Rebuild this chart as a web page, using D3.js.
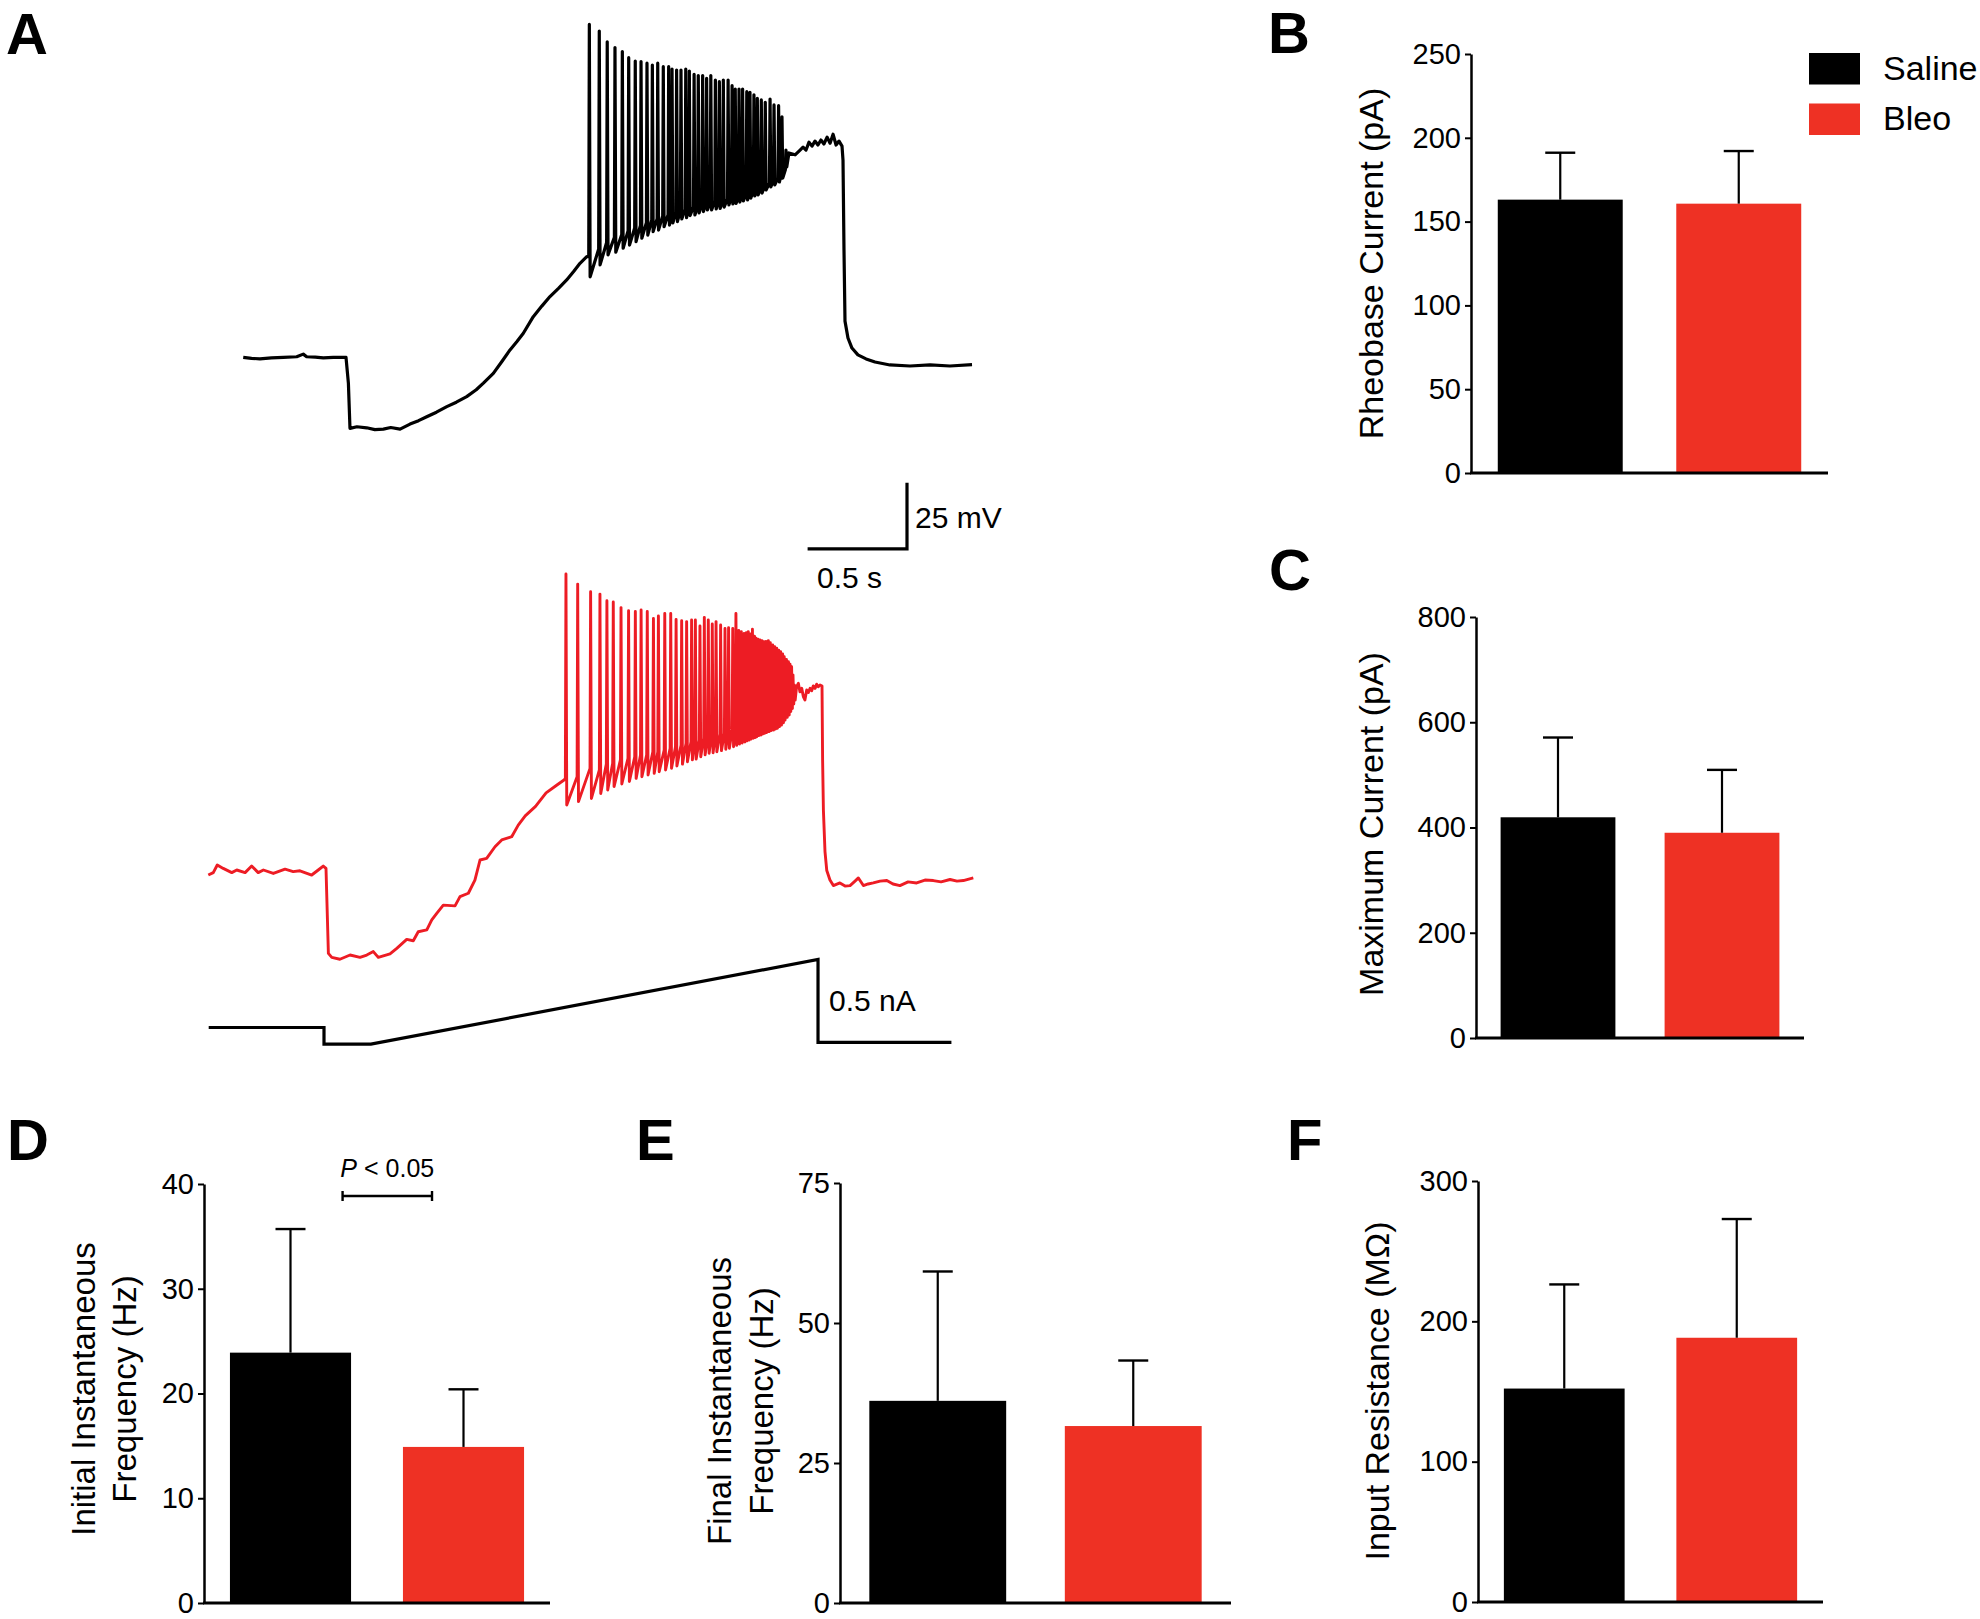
<!DOCTYPE html>
<html><head><meta charset="utf-8">
<script src="https://cdn.jsdelivr.net/npm/d3@7"></script>
<style>
body{margin:0;background:#fff}
svg{display:block}
text{font-family:"Liberation Sans",Arial,Helvetica,sans-serif;fill:#000}
</style></head>
<body><svg id="chart" width="1980" height="1619"></svg>
<script>
// ---------------- DATA ----------------
const groups = ["Saline", "Bleo"];
const groupColors = ["#000000", "#ee3124"];

// B: Rheobase current (pA)
const rheobaseMean = [163.1, 160.7];
const rheobaseSem  = [28.0, 31.4];
const rheobaseTicks = [0, 50, 100, 150, 200, 250];
// C: Maximum current (pA)
const maxCurrentMean = [419.4, 390.0];
const maxCurrentSem  = [151.6, 119.5];
const maxCurrentTicks = [0, 200, 400, 600, 800];
// D: Initial instantaneous frequency (Hz)
const initFreqMean = [23.9, 14.9];
const initFreqSem  = [11.8, 5.5];
const initFreqTicks = [0, 10, 20, 30, 40];
// E: Final instantaneous frequency (Hz)
const finalFreqMean = [36.1, 31.6];
const finalFreqSem  = [23.1, 11.7];
const finalFreqTicks = [0, 25, 50, 75];
// F: Input resistance (MOhm)
const inputResMean = [152.1, 188.3];
const inputResSem  = [74.2, 84.6];
const inputResTicks = [0, 100, 200, 300];

const sigLabel = "< 0.05";

// A: example traces (time in s from step onset, membrane potential in mV)
const salinePre = [[-0.522,-65.0],[-0.480,-65.4],[-0.438,-65.6],[-0.380,-65.2],[-0.320,-65.0],[-0.253,-64.8],[-0.220,-63.8],[-0.203,-64.8],[-0.160,-64.9],[-0.119,-65.2],[-0.069,-65.0],[-0.005,-65.0],[0.007,-74.8],[0.015,-91.9],[0.050,-91.3],[0.099,-91.7],[0.140,-92.4],[0.183,-92.2],[0.220,-91.6],[0.267,-92.2],[0.317,-90.3],[0.360,-89.0],[0.401,-87.5],[0.450,-85.8],[0.502,-83.7],[0.550,-82.0],[0.602,-79.9],[0.650,-77.3],[0.686,-74.8],[0.736,-71.1],[0.780,-66.5],[0.820,-62.2],[0.855,-59.0],[0.887,-55.9],[0.937,-49.6],[0.980,-45.6],[1.021,-42.0],[1.065,-38.8],[1.105,-35.7],[1.140,-32.5],[1.172,-29.4],[1.206,-26.9]];
const salineSpikeT = [1.219,1.269,1.309,1.348,1.385,1.417,1.450,1.479,1.509,1.536,1.563,1.591,1.618,1.635,1.658,1.680,1.704,1.722,1.746,1.767,1.789,1.809,1.830,1.853,1.873,1.893,1.917,1.937,1.953,1.972,1.990,2.011,2.027,2.047,2.064,2.084,2.104,2.128,2.148,2.171,2.188,2.208];
const salineSpikeThr = [-26.9,-24.0,-21.5,-19.5,-18.5,-17.0,-16.0,-15.0,-14.0,-13.0,-12.5,-11.5,-11.0,-10.5,-10.0,-9.5,-9.0,-8.5,-8.0,-7.5,-7.0,-6.5,-6.5,-6.0,-5.5,-5.5,-5.0,-4.5,-4.0,-4.0,-3.5,-3.0,-2.5,-2.0,-1.5,-1.0,0.0,1.0,2.0,3.0,4.5,6.0];
const salineSpikePeak = [61.1,58.6,54.5,52.3,50.8,48.5,47.2,47.0,46.4,45.7,46.4,45.1,45.1,44.2,43.8,43.8,44.2,43.4,42.2,41.7,41.7,40.7,41.7,40.0,39.4,40.0,40.0,37.9,36.6,36.6,36.6,35.6,35.4,34.4,33.1,32.5,31.6,32.8,30.6,30.3,26.1,13.5];
const salineSpikeTrough = [-34.5,-30.0,-26.2,-25.2,-23.7,-22.5,-21.2,-19.9,-18.7,-17.4,-16.8,-15.5,-14.9,-14.1,-13.6,-12.6,-12.1,-11.3,-11.1,-10.3,-9.8,-9.2,-9.2,-8.8,-8.6,-8.1,-7.3,-6.9,-6.7,-6.2,-5.8,-5.4,-4.7,-3.9,-3.5,-2.8,-1.6,-0.5,0.3,1.4,2.9,7.1];
const salinePost = [[2.223,12.4],[2.254,11.7],[2.279,13.5],[2.294,14.6],[2.309,13.5],[2.324,16.5],[2.339,15.0],[2.354,16.9],[2.369,15.4],[2.384,17.3],[2.399,15.8],[2.415,18.4],[2.430,16.1],[2.445,19.5],[2.460,15.4],[2.475,16.9],[2.490,15.0],[2.495,9.7],[2.500,-24.4],[2.505,-51.3],[2.520,-57.7],[2.540,-61.5],[2.570,-64.1],[2.611,-65.6],[2.656,-66.8],[2.731,-67.9],[2.832,-68.3],[2.933,-67.9],[3.033,-68.3],[3.144,-67.8]];

const bleoPre = [[-0.597,-66.9],[-0.572,-66.0],[-0.552,-63.1],[-0.522,-64.4],[-0.479,-66.0],[-0.454,-65.0],[-0.412,-66.0],[-0.379,-63.5],[-0.346,-66.0],[-0.320,-65.0],[-0.270,-66.3],[-0.211,-64.7],[-0.170,-65.6],[-0.136,-65.3],[-0.077,-66.9],[-0.044,-65.0],[-0.019,-63.5],[-0.005,-64.4],[0.007,-96.6],[0.024,-98.1],[0.065,-98.8],[0.116,-97.2],[0.166,-98.1],[0.200,-97.2],[0.233,-95.9],[0.258,-98.1],[0.317,-96.8],[0.351,-94.7],[0.401,-91.3],[0.434,-91.8],[0.459,-88.4],[0.502,-87.7],[0.527,-83.9],[0.552,-81.4],[0.585,-78.3],[0.644,-78.6],[0.669,-75.1],[0.711,-73.8],[0.744,-68.8],[0.770,-61.2],[0.803,-60.6],[0.845,-56.2],[0.879,-53.6],[0.929,-52.4],[0.962,-48.0],[0.997,-44.5],[1.049,-40.9],[1.102,-35.8],[1.155,-32.9],[1.194,-30.8]];
const bleoSpikeT = [1.202,1.261,1.326,1.373,1.408,1.440,1.479,1.517,1.551,1.580,1.611,1.642,1.667,1.699,1.729,1.756,1.784,1.809,1.834,1.853,1.876,1.898,1.918,1.938,1.957,1.980,2.002,2.020,2.041,2.057,2.071,2.084,2.098,2.109,2.119,2.129,2.140,2.150,2.158,2.168,2.178,2.188,2.198,2.208,2.220,2.230,2.242,2.252,2.262,2.272,2.282,2.292,2.300,2.311,2.321,2.329,2.337,2.344,2.351];
const bleoSpikeThr = [-30.3,-29.7,-26.5,-27.1,-24.9,-24.6,-23.3,-22.7,-22.1,-21.4,-21.4,-20.2,-20.2,-19.6,-18.9,-18.3,-17.7,-17.0,-16.4,-16.4,-15.8,-15.1,-14.5,-14.2,-13.9,-13.5,-13.2,-12.7,-12.2,-12.0,-13.2,-13.0,-12.6,-12.2,-12.0,-11.6,-11.3,-11.0,-10.7,-10.3,-10.1,-9.7,-9.4,-9.1,-8.8,-8.4,-8.2,-7.8,-7.6,-6.9,-6.3,-5.7,-4.6,-3.8,-2.8,-1.6,-0.4,0.9,1.9];
const bleoSpikePeak = [47.1,43.3,40.4,39.5,37.0,36.5,34.4,33.2,32.9,33.5,32.9,30.3,31.2,32.2,32.2,29.9,29.4,29.1,29.7,29.7,27.4,30.7,29.7,28.2,29.1,27.8,26.5,26.8,26.5,32.2,25.7,25.3,24.6,24.9,25.3,24.4,26.2,23.6,22.8,22.4,22.1,21.9,21.5,21.6,21.9,21.1,20.2,19.6,19.0,18.3,17.7,16.8,15.8,14.8,13.9,13.0,12.0,8.9,5.1];
const bleoSpikeTrough = [-40.4,-39.1,-37.9,-36.0,-34.7,-33.4,-32.4,-31.5,-30.3,-29.7,-29.0,-28.4,-27.8,-27.1,-26.5,-25.6,-24.9,-24.0,-23.3,-23.0,-22.1,-21.4,-20.8,-20.6,-20.2,-19.8,-19.3,-18.9,-18.3,-17.8,-17.3,-16.9,-16.5,-16.1,-15.8,-15.4,-15.1,-14.8,-14.5,-14.1,-13.9,-13.5,-13.2,-12.9,-12.6,-12.2,-12.0,-11.6,-11.3,-10.7,-10.1,-9.2,-8.2,-7.2,-6.3,-5.0,-3.8,-2.1,-0.6];
const bleoPost = [[2.362,4.4],[2.371,5.7],[2.379,2.5],[2.388,3.8],[2.396,0.7],[2.404,-0.6],[2.413,3.2],[2.421,2.2],[2.430,3.8],[2.438,2.9],[2.446,4.7],[2.455,3.8],[2.463,5.4],[2.471,4.4],[2.480,5.1],[2.490,4.7],[2.493,-23.3],[2.497,-42.3],[2.505,-58.0],[2.514,-65.2],[2.530,-68.8],[2.547,-70.9],[2.580,-69.9],[2.606,-71.1],[2.631,-70.9],[2.656,-69.2],[2.673,-68.0],[2.698,-70.9],[2.722,-70.3],[2.748,-69.9],[2.782,-69.2],[2.816,-69.0],[2.847,-70.3],[2.882,-70.9],[2.923,-69.5],[2.966,-69.9],[3.008,-68.8],[3.050,-69.0],[3.089,-69.5],[3.134,-68.6],[3.169,-69.2],[3.201,-69.0],[3.251,-68.0]];

// injected current protocol (s, nA)
const currentT = [-0.58, 0, 0, 0.236, 2.485, 2.485, 3.156];
const currentI = [0, 0, -0.1, -0.1, 0.41, -0.09, -0.09];

// scale bars
const scaleBarTime = 0.5;   // s
const scaleBarVolt = 25;    // mV
const scaleBarLabels = ["25 mV", "0.5 s", "0.5 nA"];

// ---------------- DRAWING ----------------
const svg = d3.select("#chart");
const FONT = '"Liberation Sans",Arial,Helvetica,sans-serif';

// panel letters
const letters = [["A",6,54],["B",1268,53],["C",1269,590],["D",7,1160],["E",636,1160],["F",1287,1160]];
svg.selectAll("text.letter").data(letters).enter().append("text")
  .attr("class","letter").attr("x",d=>d[1]).attr("y",d=>d[2])
  .style("font-size","58px").style("font-weight","bold").text(d=>d[0]);

// --- bar panels ---
const panels = [
  {mean:rheobaseMean, sem:rheobaseSem, ticks:rheobaseTicks, max:250, x0:1471, x1:1828, yTop:54, yBot:473,
   titles:[["Rheobase Current (pA)",1383]], titleY:263.5},
  {mean:maxCurrentMean, sem:maxCurrentSem, ticks:maxCurrentTicks, max:800, x0:1476, x1:1804, yTop:617, yBot:1038,
   titles:[["Maximum Current (pA)",1383]], titleY:824},
  {mean:initFreqMean, sem:initFreqSem, ticks:initFreqTicks, max:40, x0:204, x1:550, yTop:1184, yBot:1603,
   titles:[["Initial Instantaneous",95],["Frequency (Hz)",136]], titleY:1389, titleSize:33, sig:true},
  {mean:finalFreqMean, sem:finalFreqSem, ticks:finalFreqTicks, max:75, x0:840, x1:1231, yTop:1183, yBot:1603,
   titles:[["Final Instantaneous",731],["Frequency (Hz)",773]], titleY:1401, titleSize:33},
  {mean:inputResMean, sem:inputResSem, ticks:inputResTicks, max:300, x0:1478, x1:1823, yTop:1181, yBot:1602,
   titles:[["Input Resistance (MΩ)",1389]], titleY:1391}
];

panels.forEach(p => {
  const g = svg.append("g");
  const x = d3.scaleBand().domain(groups).range([p.x0, p.x1]).paddingInner(0.3).paddingOuter(0.15);
  const y = d3.scaleLinear().domain([0, p.max]).range([p.yBot, p.yTop]);
  const rows = groups.map((k,i)=>({k, m:p.mean[i], s:p.sem[i], c:groupColors[i]}));

  g.selectAll("rect").data(rows).enter().append("rect")
    .attr("x", d=>x(d.k)).attr("width", x.bandwidth())
    .attr("y", d=>y(d.m)).attr("height", d=>y(0)-y(d.m)).attr("fill", d=>d.c);

  const eb = g.selectAll("g.eb").data(rows).enter().append("g").attr("class","eb");
  eb.append("line").attr("x1",d=>x(d.k)+x.bandwidth()/2).attr("x2",d=>x(d.k)+x.bandwidth()/2)
    .attr("y1",d=>y(d.m)).attr("y2",d=>y(d.m+d.s)).attr("stroke","#000").attr("stroke-width",2.2);
  eb.append("line").attr("x1",d=>x(d.k)+x.bandwidth()/2-15).attr("x2",d=>x(d.k)+x.bandwidth()/2+15)
    .attr("y1",d=>y(d.m+d.s)).attr("y2",d=>y(d.m+d.s)).attr("stroke","#000").attr("stroke-width",2.4);

  const ax = g.append("g").attr("transform",`translate(${p.x0},0)`)
    .call(d3.axisLeft(y).tickValues(p.ticks).tickSize(6).tickSizeOuter(0).tickPadding(4));
  ax.select(".domain").attr("stroke-width",2.5);
  ax.selectAll(".tick line").attr("stroke-width",2);
  ax.selectAll(".tick text").style("font-size","29px").style("font-family",FONT).attr("fill","#000");

  g.append("line").attr("x1",p.x0-1).attr("x2",p.x1).attr("y1",y(0)).attr("y2",y(0))
    .attr("stroke","#000").attr("stroke-width",2.8);

  p.titles.forEach(([txt,bx]) => {
    g.append("text").attr("transform",`translate(${bx},${p.titleY}) rotate(-90)`)
      .attr("text-anchor","middle").style("font-size",(p.titleSize||34)+"px").text(txt);
  });

  if (p.sig) {
    const xa = x(groups[0]) + x.bandwidth()*0.93, xb = x(groups[1]) + x.bandwidth()*0.24;
    const ys = 1196;
    g.append("line").attr("x1",xa).attr("x2",xb).attr("y1",ys).attr("y2",ys).attr("stroke","#000").attr("stroke-width",2.4);
    [xa,xb].forEach(xx => g.append("line").attr("x1",xx).attr("x2",xx).attr("y1",ys-5).attr("y2",ys+5).attr("stroke","#000").attr("stroke-width",2.4));
    const t = g.append("text").attr("x",(xa+xb)/2).attr("y",1177).attr("text-anchor","middle").style("font-size","25px");
    t.append("tspan").style("font-style","italic").text("P");
    t.append("tspan").text(" " + sigLabel);
  }
});

// legend
const leg = svg.append("g");
groups.forEach((gname,i) => {
  const yy = 53 + i*50.5;
  leg.append("rect").attr("x",1809).attr("y",yy).attr("width",51).attr("height",31.5).attr("fill",groupColors[i]);
  leg.append("text").attr("x",1883).attr("y",yy+26.5).style("font-size","34px").text(gname);
});

// --- Panel A traces ---
function buildTrace(pre, spT, spThr, spPk, spTr, post) {
  const pts = pre.slice();
  spT.forEach((t,i) => { pts.push([t-0.003, spThr[i]], [t, spPk[i]], [t+0.004, spTr[i]]); });
  return pts.concat(post);
}
const PX_PER_S = 198.8, PX_PER_MV = 2.64, PX_PER_NA = 166;

function traceScales(x0, yRest, vRest) {
  return {
    x: d3.scaleLinear().domain([0,1]).range([x0, x0+PX_PER_S]),
    y: d3.scaleLinear().domain([vRest, vRest+25]).range([yRest, yRest-25*PX_PER_MV])
  };
}
const sS = traceScales(347, 357.3, -65);
const sB = traceScales(327, 870, -65);

const salineTrace = buildTrace(salinePre, salineSpikeT, salineSpikeThr, salineSpikePeak, salineSpikeTrough, salinePost);
const bleoTrace = buildTrace(bleoPre, bleoSpikeT, bleoSpikeThr, bleoSpikePeak, bleoSpikeTrough, bleoPost);

svg.append("path").datum(salineTrace)
  .attr("d", d3.line().x(d=>sS.x(d[0])).y(d=>sS.y(d[1])))
  .attr("fill","none").attr("stroke","#000").attr("stroke-width",3.2).attr("stroke-linejoin","round");
svg.append("path").datum(bleoTrace)
  .attr("d", d3.line().x(d=>sB.x(d[0])).y(d=>sB.y(d[1])))
  .attr("fill","none").attr("stroke","#ed1c24").attr("stroke-width",2.9).attr("stroke-linejoin","round");

// current protocol
const cx = d3.scaleLinear().domain([0,1]).range([324, 324+PX_PER_S]);
const cy = d3.scaleLinear().domain([0,0.5]).range([1027.5, 1027.5-0.5*PX_PER_NA]);
svg.append("path").datum(currentT.map((t,i)=>[t,currentI[i]]))
  .attr("d", d3.line().x(d=>cx(d[0])).y(d=>cy(d[1])))
  .attr("fill","none").attr("stroke","#000").attr("stroke-width",3.2).attr("stroke-linejoin","miter");

// scale bars
const corner = [907, 548.8];
const sbx = d3.scaleLinear().domain([0,1]).range([0, PX_PER_S]);
const sby = d3.scaleLinear().domain([0,1]).range([0, PX_PER_MV]);
svg.append("path")
  .attr("d", `M${corner[0]-sbx(scaleBarTime)},${corner[1]}H${corner[0]}V${corner[1]-sby(scaleBarVolt)}`)
  .attr("fill","none").attr("stroke","#000").attr("stroke-width",3.2);
svg.append("text").attr("x",915).attr("y",528).style("font-size","30px").text(scaleBarLabels[0]);
svg.append("text").attr("x",817).attr("y",588).style("font-size","30px").text(scaleBarLabels[1]);
svg.append("text").attr("x",829).attr("y",1011).style("font-size","30px").text(scaleBarLabels[2]);
</script>
</body></html>
